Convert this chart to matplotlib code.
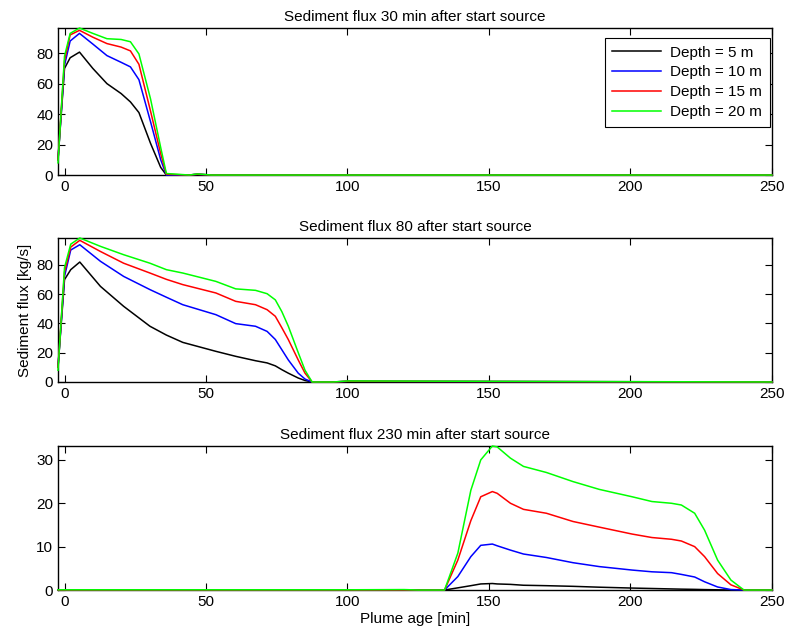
import numpy as np
import matplotlib
matplotlib.use("Agg")
import matplotlib.pyplot as plt

# ---------------------------------------------------------------- data
labels = ["Depth = 5 m", "Depth = 10 m", "Depth = 15 m", "Depth = 20 m"]
colors = ["k", "b", "r", "#00ff00"]

titles = ["Sediment flux 30 min after start source",
          "Sediment flux 80 after start source",
          "Sediment flux 230 min after start source"]

# panel 1: 30 min
x30 = [-2.3, 0, 2, 5.3, 10, 15, 20, 23.3, 26.3, 30.4, 34, 36, 44, 47, 52, 250]
d5_30  = [10, 70, 77, 80.7, 70, 60, 53.5, 48, 41, 20.8, 5, 0, 0, 0.5, 0, 0]
d10_30 = [10, 72, 88, 93, 86, 78.4, 74, 71, 62.6, 35, 10, 0, 0, 0.5, 0, 0]
d15_30 = [10, 75, 92, 95, 90.5, 86.3, 84, 81.5, 72.7, 42, 14, 0.5, 0, 0.5, 0, 0]
d20_30 = [8, 78, 93, 96.5, 93, 89.5, 89, 87.5, 79.5, 50, 18, 1, 0, 0.7, 0, 0]

# panel 2: 80 min
x80 = [-2.3, 0, 2.2, 5.4, 12.7, 20.9, 30.2, 36, 41.8, 53.5, 60.5, 67.5, 71.6,
       74.5, 76.8, 79.1, 82.6, 85, 87.5, 95, 100, 250]
d5_80  = [10, 69.8, 76.6, 81.8, 65.2, 51.6, 38, 32, 27, 20.9, 17.5, 14.5, 13,
          11, 8.4, 6, 2.7, 1, 0, 0, 0.3, 0]
d10_80 = [10, 72, 90, 93.6, 82.3, 72, 63, 57.8, 52.7, 45.9, 39.8, 38, 34.5,
          29, 22, 15, 6, 2, 0, 0, 0.5, 0]
d15_80 = [10, 75, 92, 96.6, 89, 81, 74.3, 70, 66.4, 60.7, 55, 52.7, 49.3,
          44.8, 37, 28.9, 15, 6, 0, 0, 0.5, 0]
d20_80 = [8, 78, 94, 98.2, 92.5, 86.8, 81, 76.6, 74.3, 68.6, 63.5, 62.5, 60.2,
          56, 48, 38, 20, 8, 0, 0, 0.7, 0]

# panel 3: 230 min
x230 = [-2.3, 20, 60, 100, 120, 125, 134.3, 139, 143.6, 147.1, 151.2, 152.9,
        157.6, 162.2, 170.3, 179.7, 189, 200.6, 207.6, 214.5, 218, 222.7,
        226.2, 230.8, 235.5, 240.1, 250]
d5_230  = [0, 0, 0, 0, 0, 0, 0, 0.5, 1.0, 1.4, 1.5, 1.4, 1.3, 1.1, 1.0, 0.85,
           0.65, 0.45, 0.35, 0.25, 0.2, 0.15, 0.1, 0.05, 0, 0, 0]
d10_230 = [0, 0, 0, 0, 0, 0, 0, 3.1, 7.7, 10.3, 10.6, 10.2, 9.2, 8.3,
           7.5, 6.3, 5.4, 4.6, 4.2, 4.0, 3.6, 3.0, 1.9, 0.7, 0.1, 0, 0]
d15_230 = [0, 0, 0, 0, 0, 0, 0, 6.9, 16, 21.5, 22.7, 22.3, 20, 18.6,
           17.7, 15.8, 14.5, 12.9, 12.1, 11.7, 11.3, 10, 7.7, 3.8, 1.2, 0, 0]
d20_230 = [0.05, 0.05, 0.05, 0.05, 0.1, 0, 0, 8.5, 23, 30, 33.2, 33, 30.4, 28.5,
           27.1, 25, 23.2, 21.5, 20.4, 20, 19.6, 17.7, 13.8, 6.9, 2.3, 0, 0]

panels = [(x30, [d5_30, d10_30, d15_30, d20_30], [0, 20, 40, 60, 80]),
          (x80, [d5_80, d10_80, d15_80, d20_80], [0, 20, 40, 60, 80]),
          (x230, [d5_230, d10_230, d15_230, d20_230], [0, 10, 20, 30])]
xticks = [0, 50, 100, 150, 200, 250]

# ---------------------------------------------------------------- style
plt.rcParams.update({
    "font.family": ["Liberation Sans", "DejaVu Sans"], "font.size": 11,
    "xtick.direction": "in", "ytick.direction": "in",
    "xtick.top": True, "ytick.right": True,
    "xtick.major.size": 5, "ytick.major.size": 5,
    "axes.linewidth": 1.0,
})

fig = plt.figure(figsize=(7.88, 6.36), dpi=100)
rects = [(0.0736, 0.7248, 0.906, 0.2311),
         (0.0736, 0.3994, 0.906, 0.2264),
         (0.0736, 0.0723, 0.906, 0.2264)]

axes = []
for rect, ttl, (xx, ys, yt) in zip(rects, titles, panels):
    ax = fig.add_axes(rect)
    for y, col, lab in zip(ys, colors, labels):
        # drawn over the spines and unclipped, like MATLAB
        ax.plot(xx, y, color=col, lw=1.1, label=lab, zorder=3, clip_on=False)
    ax.set_xlim(-2.3, 250)
    ymax = max(max(y) for y in ys)
    ax.set_ylim(0, ymax)
    ax.set_xticks(xticks)
    ax.set_yticks(yt)
    ax.set_title(ttl, fontsize=11, pad=5)
    axes.append(ax)

leg = axes[0].legend(loc="upper right", bbox_to_anchor=(0.997, 0.932),
                     borderaxespad=0, fancybox=False, edgecolor="k",
                     framealpha=1, handlelength=3.2, labelspacing=0.38,
                     handletextpad=0.6, borderpad=0.5, fontsize=11)
leg.get_frame().set_linewidth(0.8)
leg.set_zorder(5)

axes[1].set_ylabel("Sediment flux [kg/s]", labelpad=3)
axes[2].set_xlabel("Plume age [min]", labelpad=2)

fig.savefig("out.png", dpi=100)
